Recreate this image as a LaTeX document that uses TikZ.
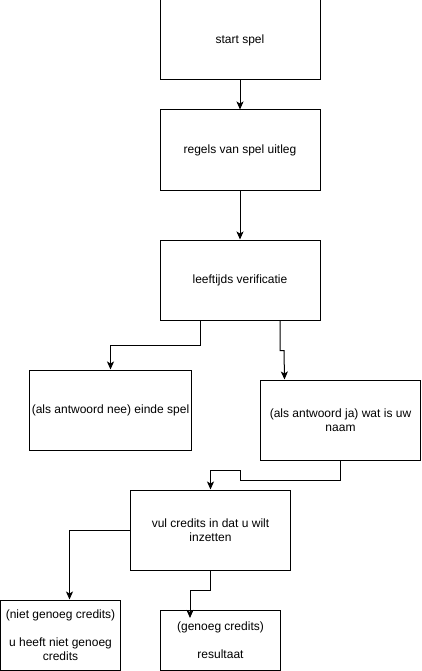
\documentclass[tikz,border=0pt]{standalone}
\usepackage{fontspec}
\setmainfont{Liberation Sans}
\usetikzlibrary{arrows.meta}
\begin{document}
\begin{tikzpicture}[x=1pt,y=-1pt,
  box/.style={draw=black,line width=1pt,fill=white,minimum width=160pt,minimum height=80pt,inner sep=2pt,align=center,font=\fontsize{12pt}{14pt}\selectfont},
  arr/.style={draw=black,line width=1pt,-{Stealth[length=8pt,width=7pt,inset=2pt]}}]
\useasboundingbox (0,0) rectangle (421,671);
\node[box] (b1) at (240,40) {start spel};
\node[box] (b2) at (240,150) {regels van spel uitleg};
\node[box] (b3) at (240,280) {leeftijds verificatie};
\node[box] (nee) at (110.5,410) {(als antwoord nee) einde spel};
\node[box] (ja) at (340.5,420) {(als antwoord ja) wat is uw\\naam};
\node[box] (vul) at (210.5,530) {vul credits in dat u wilt\\inzetten};
\node[box,minimum width=120pt,minimum height=70pt] (niet) at (60.5,635) {(niet genoeg credits)\\[14pt]u heeft niet genoeg\\credits};
\node[box,minimum width=120pt,minimum height=60pt] (gen) at (220.5,640) {(genoeg credits)\\[14pt]resultaat};
\coordinate (genin) at (190,618);
\draw[arr] (b1.south) -- (b2.north);
\draw[arr] (b2.south) -- (b3.north);
\draw[arr] ([xshift=-40pt]b3.south) -- ++(0,25) -| (nee.north);
\draw[arr] ([xshift=40pt]b3.south) -- ++(0,30) -- ++(4,0) -- ([xshift=-56pt]ja.north);
\draw[arr] (ja.south) -- ++(0,20) -| ++(-100,-10) -| (vul.north);
\draw[arr] (vul.west) -| ([xshift=9pt]niet.north);
\draw[arr] (vul.south) -- ++(0,20) -| (genin);
\end{tikzpicture}
\end{document}
